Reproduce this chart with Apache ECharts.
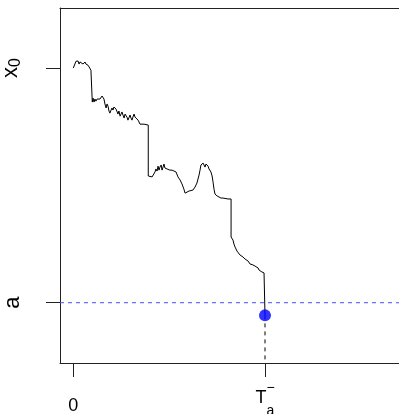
<!DOCTYPE html>
<html>
<head>
<meta charset="utf-8">
<script src="https://cdn.jsdelivr.net/npm/echarts@6/dist/echarts.min.js"></script>
<style>html,body{margin:0;padding:0;background:#fff}#c{width:399px;height:414px}</style>
</head>
<body>
<div id="c"></div>
<script>
// process path: [time, value]; x0 = 100, barrier a = 0, hitting time T = 100
const pathPoints = [[0,100],[1.4,102.9],[1.9,102.1],[2.5,103.0],[3.0,101.7],[3.5,102.6],[4.0,102.1],[4.5,102.6],[5.1,101.7],[5.6,102.1],[6.1,102.6],[6.6,101.7],[7.7,101.2],[8.2,101.7],[9.2,99.1],[9.9,98.3],[9.9,85.5],[10.3,87.2],[10.8,85.5],[11.3,86.8],[11.8,85.9],[12.4,86.8],[12.9,86.4],[13.4,87.2],[13.9,86.8],[15.0,88.1],[16.0,86.8],[16.5,84.7],[17.1,83.0],[17.6,84.7],[18.1,83.8],[18.6,81.7],[19.1,80.8],[19.7,82.1],[20.2,83.0],[20.7,82.1],[21.2,83.4],[22.3,82.5],[22.8,81.7],[23.3,80.4],[23.8,81.7],[24.4,79.5],[24.9,80.0],[25.4,81.3],[25.9,80.0],[26.5,78.7],[27.0,80.4],[27.5,80.8],[28.0,79.1],[28.5,77.8],[29.6,80.0],[30.1,78.7],[30.6,77.8],[31.1,79.1],[31.7,80.4],[32.2,79.1],[32.7,78.3],[33.2,79.5],[33.8,77.8],[34.8,76.1],[35.8,76.6],[36.9,76.1],[37.9,76.1],[39.1,75.7],[39.1,54.0],[40.0,53.6],[41.1,53.6],[42.1,54.0],[42.6,55.7],[43.1,57.0],[43.7,56.1],[44.2,58.2],[44.7,56.5],[45.2,57.8],[45.8,58.7],[46.3,56.5],[46.8,57.8],[47.3,59.1],[47.8,57.4],[48.4,58.2],[48.9,57.0],[49.4,57.4],[50.4,56.5],[51.5,56.5],[52.5,56.1],[53.6,55.7],[54.6,53.6],[55.7,52.3],[56.7,50.6],[57.7,48.4],[58.3,46.7],[59.3,46.7],[60.4,47.6],[61.4,47.6],[62.4,48.0],[63.5,49.3],[64.5,51.0],[65.6,54.4],[66.1,56.5],[66.6,58.7],[67.7,59.5],[68.7,57.8],[69.2,59.1],[69.7,59.5],[70.3,58.2],[70.8,57.0],[71.3,57.4],[71.8,55.7],[72.4,54.0],[72.9,51.4],[73.4,48.4],[73.9,46.3],[75.0,45.5],[76.0,45.0],[77.0,44.6],[78.1,44.6],[79.1,44.2],[80.7,44.2],[82.3,44.2],[82.3,28.0],[82.8,28.0],[83.3,26.7],[83.8,25.0],[84.4,23.7],[84.9,23.3],[85.4,22.0],[85.9,21.2],[86.4,21.2],[87.0,20.3],[87.5,19.9],[88.0,19.9],[88.5,19.5],[89.0,19.0],[89.6,18.6],[90.1,18.6],[90.6,18.2],[91.1,17.8],[91.7,17.3],[92.2,16.5],[92.7,16.5],[93.2,16.5],[93.7,16.1],[94.3,15.6],[94.8,15.6],[95.3,15.2],[95.8,14.8],[96.4,14.8],[96.9,13.9],[97.4,13.5],[97.9,13.5],[98.4,13.1],[99.5,12.7],[100,12.2]];
const hitT = 100;
const hitV = -5.4;
const barrierA = 0;
const startX0 = 100;
const xTicks = [0, hitT];
const yTicks = [barrierA, startX0];
const xMin = -6.94, xMax = 169.9, yMin = -25.7, yMax = 125.6;

const FONT = 'Liberation Sans';
const chart = echarts.init(document.getElementById('c'), null, {renderer: 'canvas'});
chart.setOption({
  animation: false,
  grid: {left: 60, top: 8, right: 0, bottom: 51, containLabel: false, outerBoundsMode: 'none'},
  xAxis: [{
    type: 'value', min: xMin, max: xMax, position: 'bottom',
    splitLine: {show: false},
    axisLine: {show: true, onZero: false, lineStyle: {color: '#222', width: 1}},
    axisTick: {show: true, customValues: xTicks, length: 14, lineStyle: {color: '#222'}},
    axisLabel: {
      show: true, customValues: xTicks, margin: 20, fontFamily: FONT, color: '#000',
      formatter: v => v === hitT ? '{g|T}{m|\u2212}\n{T|T}{a|a}' : '{n|0}',
      rich: {
        g: {fontSize: 18, fontFamily: FONT, color: 'rgba(0,0,0,0)', lineHeight: 5},
        m: {fontSize: 14, fontFamily: FONT, color: '#000', lineHeight: 5, padding: [6, 0, 0, 0]},
        T: {fontSize: 18, fontFamily: FONT, color: '#000', lineHeight: 20},
        a: {fontSize: 14, fontFamily: FONT, color: '#000', lineHeight: 20, padding: [26, 0, 0, 0]},
        n: {fontSize: 18, fontFamily: FONT, color: '#000', padding: [14, 0, 0, 0]}
      }
    }
  }, {
    type: 'value', min: xMin, max: xMax, position: 'top',
    splitLine: {show: false}, axisTick: {show: false}, axisLabel: {show: false},
    axisLine: {show: true, onZero: false, lineStyle: {color: '#222', width: 1}}
  }],
  yAxis: {
    type: 'value', min: yMin, max: yMax,
    splitLine: {show: false},
    axisLine: {show: true, onZero: false, lineStyle: {color: '#222', width: 1}},
    axisTick: {show: true, customValues: yTicks, length: 14, lineStyle: {color: '#222'}},
    axisLabel: {
      show: true, customValues: yTicks, rotate: 90, margin: 36, fontFamily: FONT, color: '#000',
      formatter: v => v === startX0 ? '{x|x}{s|0}' : '{x|a}',
      rich: {
        x: {fontSize: 22, fontFamily: FONT, color: '#000'},
        s: {fontSize: 16, fontFamily: FONT, color: '#000', padding: [10, 0, 0, 0]}
      }
    }
  },
  series: [{
    type: 'line', data: pathPoints.concat([[hitT, hitV]]), showSymbol: false, symbol: 'none',
    lineStyle: {color: '#000', width: 1}, z: 3
  }, {
    type: 'line', data: [[xMin, barrierA], [xMax, barrierA]], showSymbol: false, symbol: 'none',
    lineStyle: {color: '#4d4dff', width: 1, type: [4, 4]}, z: 2
  }, {
    type: 'line', data: [[hitT, hitV], [hitT, yMin]], showSymbol: false, symbol: 'none',
    lineStyle: {color: '#000', width: 1, type: [4, 4]}
  }, {
    type: 'scatter', data: [[hitT, hitV]], symbolSize: 12,
    itemStyle: {color: '#0000ff'}, z: 5
  }]
});
</script>
</body>
</html>
